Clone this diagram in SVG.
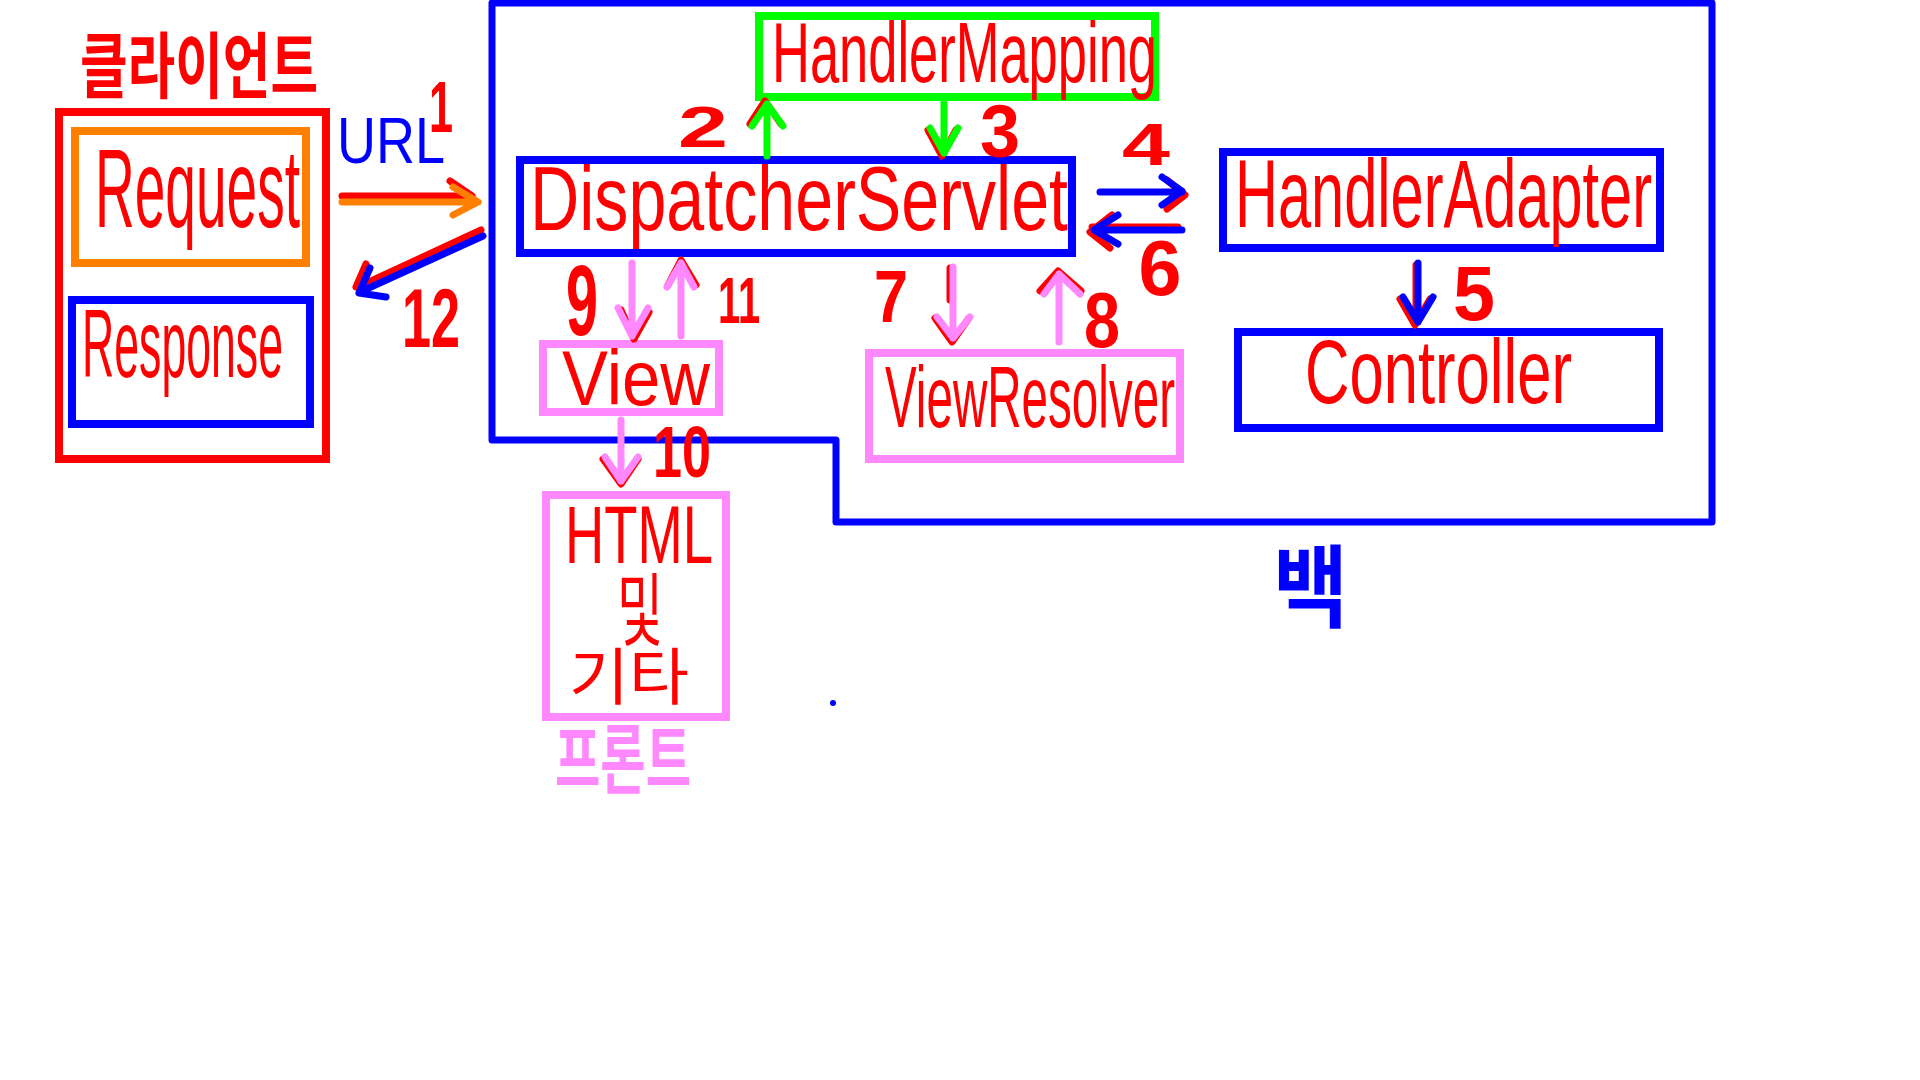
<svg xmlns="http://www.w3.org/2000/svg" width="1920" height="1080" viewBox="0 0 1920 1080">
<style>
.box{fill:none;stroke-width:8}
.r{stroke:#FF0000}.b{stroke:#0000FF}.g{stroke:#00FF00}.o{stroke:#FF8000}.p{stroke:#FF88FF}
.lbl{font-family:"Liberation Sans",Arial,sans-serif;fill:#FF0000}
.num{font-family:"Liberation Sans",Arial,sans-serif;font-weight:bold;fill:#FF0000;text-anchor:middle}
.ko{font-family:"Liberation Sans","Noto Sans CJK KR",sans-serif;font-weight:bold}
.kt{font-family:"Liberation Sans","Noto Sans CJK KR",sans-serif;font-weight:normal}
.arr{fill:none;stroke-width:7;stroke-linecap:round;stroke-linejoin:round}
.sh{fill:none;stroke:#FF0000;stroke-width:7;stroke-linecap:round;stroke-linejoin:round}
</style>
<rect width="1920" height="1080" fill="#FFFFFF"/>

<g id="backend">
<path d="M492,3 H1712 V522 H836 V440 H492 Z" fill="none" stroke="#0000FF" stroke-width="7" stroke-linejoin="round"/>
<text class="ko" x="1273" y="620" font-size="90" textLength="75" lengthAdjust="spacingAndGlyphs" fill="#0000FF">백</text>
<circle cx="833" cy="703" r="3" fill="#0000FF"/>
</g>

<g id="client">
<text class="ko" x="80" y="92" font-size="72" textLength="238" lengthAdjust="spacingAndGlyphs" fill="#FF0000">클라이언트</text>
<rect class="box r" x="59" y="112" width="267" height="347"/>
</g>

<g id="request">
<rect class="box o" x="75" y="131" width="231" height="132"/>
<text class="lbl" x="95" y="227" font-size="112" textLength="205" lengthAdjust="spacingAndGlyphs">Request</text>
</g>

<g id="response">
<rect class="box b" x="72" y="300" width="238" height="124"/>
<text class="lbl" x="82" y="377" font-size="96" textLength="201" lengthAdjust="spacingAndGlyphs">Response</text>
</g>

<g id="handler-mapping">
<rect class="box g" x="759" y="16" width="396" height="81"/>
<text class="lbl" x="772" y="82" font-size="86" textLength="385" lengthAdjust="spacingAndGlyphs">HandlerMapping</text>
</g>

<g id="dispatcher-servlet">
<rect class="box b" x="520" y="160" width="552" height="93"/>
<text class="lbl" x="530" y="230" font-size="91" textLength="538" lengthAdjust="spacingAndGlyphs">DispatcherServlet</text>
</g>

<g id="handler-adapter">
<rect class="box b" x="1223" y="152" width="437" height="96"/>
<text class="lbl" x="1235" y="227" font-size="96" textLength="417" lengthAdjust="spacingAndGlyphs">HandlerAdapter</text>
</g>

<g id="controller">
<rect class="box b" x="1238" y="332" width="421" height="96"/>
<text class="lbl" x="1305" y="403" font-size="91" textLength="267" lengthAdjust="spacingAndGlyphs">Controller</text>
</g>

<g id="view">
<rect class="box p" x="543" y="344" width="176" height="68"/>
<text class="lbl" x="562" y="405" font-size="77" textLength="148" lengthAdjust="spacingAndGlyphs">View</text>
</g>

<g id="view-resolver">
<rect class="box p" x="869" y="353" width="311" height="106"/>
<text class="lbl" x="885" y="427" font-size="87" textLength="290" lengthAdjust="spacingAndGlyphs">ViewResolver</text>
</g>

<g id="html">
<rect class="box p" x="546" y="495" width="180" height="222"/>
<text class="lbl" x="565" y="563" font-size="81" textLength="148" lengthAdjust="spacingAndGlyphs">HTML</text>
<text class="kt" x="617" y="639" font-size="80" textLength="46" lengthAdjust="spacingAndGlyphs" fill="#FF0000">및</text>
<text class="kt" x="569" y="700" font-size="62" textLength="120" lengthAdjust="spacingAndGlyphs" fill="#FF0000">기타</text>
<text class="ko" x="555" y="786" font-size="74" textLength="136" lengthAdjust="spacingAndGlyphs" fill="#FF88FF">프론트</text>
</g>

<g id="connectors">
<!-- 1 -->
<path class="sh" d="M342,196 H472 M450,181 L472,196"/>
<path class="arr o" d="M342,202 H478 M453,187 L478,202 L453,215"/>
<text x="337" y="163" font-size="64" textLength="108" lengthAdjust="spacingAndGlyphs" style="font-family:'Liberation Sans',Arial,sans-serif;fill:#0000FF">URL</text>
<text class="num" x="441" y="132" font-size="72" textLength="24" lengthAdjust="spacingAndGlyphs">1</text>
<!-- 12 -->
<path class="sh" d="M481,230 L358,287 M366,264 L356,287"/>
<path class="arr b" d="M483,236 L360,292 M370,268 L359,293 L386,297"/>
<text class="num" x="431" y="347" font-size="84" textLength="58" lengthAdjust="spacingAndGlyphs">12</text>
<!-- 2 -->
<path class="sh" d="M750,124 L765,101 L781,124"/>
<path class="arr g" d="M767,156 V104 M752,126 L767,104 L783,126"/>
<text class="num" x="703" y="147" font-size="57" textLength="50" lengthAdjust="spacingAndGlyphs">2</text>
<!-- 3 -->
<path class="sh" d="M928,130 L942,156 L956,130"/>
<path class="arr g" d="M944,101 V153 M930,128 L944,153 L958,128"/>
<text class="num" x="1000" y="157" font-size="75" textLength="40" lengthAdjust="spacingAndGlyphs">3</text>
<!-- 4 -->
<path class="sh" d="M1167,180 L1185,195 L1167,209"/>
<path class="arr b" d="M1100,192 H1182 M1162,177 L1182,191 L1162,205"/>
<text class="num" x="1146" y="165" font-size="59" textLength="48" lengthAdjust="spacingAndGlyphs">4</text>
<!-- 6 -->
<path class="sh" d="M1178,227 H1092 M1112,215 L1090,232 L1110,248"/>
<path class="arr b" d="M1182,230 H1094 M1118,215 L1094,230 L1118,244"/>
<text class="num" x="1160" y="295" font-size="77" textLength="43" lengthAdjust="spacingAndGlyphs">6</text>
<!-- 5 -->
<path class="sh" d="M1416,265 V320 M1400,299 L1415,325 L1430,299"/>
<path class="arr b" d="M1418,263 V322 M1403,297 L1418,322 L1433,297"/>
<text class="num" x="1474" y="320" font-size="77" textLength="42" lengthAdjust="spacingAndGlyphs">5</text>
<!-- 9 -->
<path class="sh" d="M621,310 L634,339 L649,312"/>
<path class="arr p" d="M632,263 V336 M618,308 L632,336 L648,308"/>
<text class="num" x="582" y="335" font-size="100" textLength="32" lengthAdjust="spacingAndGlyphs">9</text>
<!-- 11 -->
<path class="sh" d="M668,285 L681,260 L696,285"/>
<path class="arr p" d="M681,336 V263 M667,287 L681,263 L694,287"/>
<text class="num" x="739" y="323" font-size="64" textLength="42" lengthAdjust="spacingAndGlyphs">11</text>
<!-- 7 -->
<path class="sh" d="M950,268 V300 M935,318 L952,342 L969,318"/>
<path class="arr p" d="M953,267 V338 M937,317 L953,338 L970,317"/>
<text class="num" x="891" y="322" font-size="75" textLength="34" lengthAdjust="spacingAndGlyphs">7</text>
<!-- 8 -->
<path class="sh" d="M1040,291 L1058,271 L1081,291"/>
<path class="arr p" d="M1059,342 V274 M1044,294 L1059,274 L1080,294"/>
<text class="num" x="1102" y="347" font-size="77" textLength="36" lengthAdjust="spacingAndGlyphs">8</text>
<!-- 10 -->
<path class="sh" d="M603,459 L621,484 L638,459"/>
<path class="arr p" d="M621,420 V481 M605,457 L621,481 L638,457"/>
<text class="num" x="682" y="477" font-size="73" textLength="58" lengthAdjust="spacingAndGlyphs">10</text>
</g>
</svg>
